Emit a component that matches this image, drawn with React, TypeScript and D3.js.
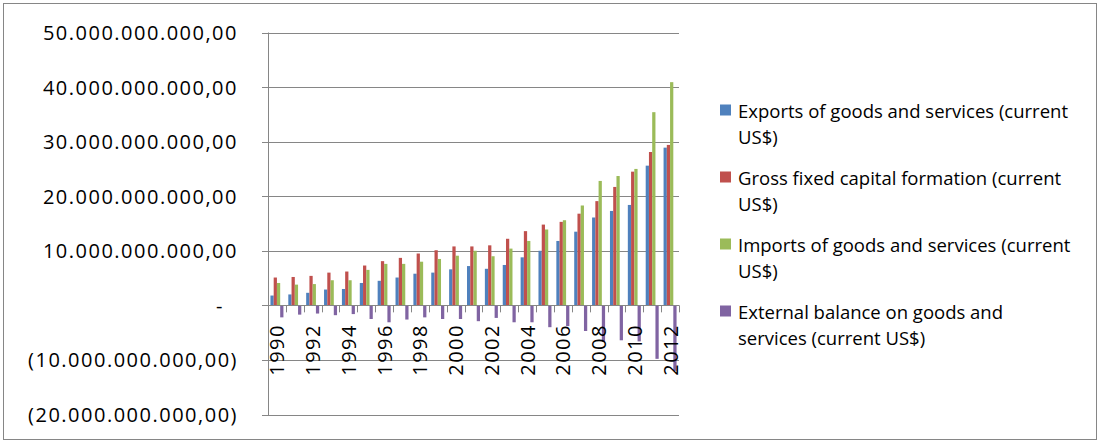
import * as d3 from 'd3'
import * as React from 'react'

//------------------------------data------------------------------
const years = [
  '1990', '1991', '1992', '1993', '1994', '1995', '1996', '1997', '1998', '1999', '2000', '2001',
  '2002', '2003', '2004', '2005', '2006', '2007', '2008', '2009', '2010', '2011', '2012'
]
// values in billions of current US$
const exportsValues = [
  1.8, 2.0, 2.3, 2.9, 3.0, 4.1, 4.5, 5.1, 5.8, 6.0, 6.6, 7.2, 6.7, 7.4, 8.8, 10.0, 11.8, 13.5, 16.1, 17.3, 18.4, 25.6, 28.9
]
const grossCapitalValues = [
  5.1, 5.2, 5.4, 6.0, 6.2, 7.3, 8.1, 8.7, 9.5, 10.1, 10.8, 10.8, 11.0, 12.2, 13.6, 14.8, 15.3, 16.8, 19.1, 21.7, 24.5, 28.1, 29.4
]
const importsValues = [
  4.1, 3.8, 3.9, 4.6, 4.6, 6.5, 7.6, 7.6, 8.0, 8.5, 9.1, 10.0, 9.0, 10.4, 11.8, 13.9, 15.6, 18.3, 22.8, 23.7, 25.0, 35.4, 40.9
]
const externalBalanceValues = [
  -2.2, -1.7, -1.5, -1.8, -1.6, -2.5, -3.1, -2.6, -2.2, -2.5, -2.5, -2.9, -2.3, -3.1, -3.1, -4.0, -3.8, -4.7, -6.7, -6.4, -6.6, -9.8, -12.0
]
const seriesNames = [
  ['Exports of goods and services (current', 'US$)'],
  ['Gross fixed capital formation (current', 'US$)'],
  ['Imports of goods and services (current', 'US$)'],
  ['External balance on goods and', 'services (current US$)']
]
const seriesColors = ['#4F81BD', '#C0504D', '#9BBB59', '#8064A2']
const yTicks = [-20e9, -10e9, 0, 10e9, 20e9, 30e9, 40e9, 50e9]
const yearLabels = years.filter((_, i) => i % 2 === 0)

//------------------------------layout------------------------------
const WIDTH = 1098
const HEIGHT = 443
const PLOT_LEFT = 268
const PLOT_RIGHT = 679
const PLOT_TOP = 32.5
const PLOT_BOTTOM = 414.5
const GRID = '#868686'
const FONT = '"Open Sans", sans-serif'

const locale = d3.formatLocale({ decimal: ',', thousands: '.', grouping: [3], currency: ['', ''] })
const fmt = locale.format(',.2f')
const tickLabel = (v: number) => (v === 0 ? '-' : v < 0 ? `(${fmt(-v)})` : fmt(v))

export default function App() {
  const allSeries = [exportsValues, grossCapitalValues, importsValues, externalBalanceValues]

  const y = d3.scaleLinear().domain([-20e9, 50e9]).range([PLOT_BOTTOM, PLOT_TOP])
  const x = d3
    .scaleBand<string>()
    .domain(years)
    .range([PLOT_LEFT, PLOT_RIGHT])
    .paddingInner(1.5 / 5.5)
    .paddingOuter(0.75 / 5.5)
  const xSeries = d3
    .scaleBand<number>()
    .domain([0, 1, 2, 3])
    .range([0, x.bandwidth()])
  const step = x.step()
  const y0 = y(0)
  const boundaries = d3.range(years.length + 1).map(i => PLOT_LEFT + i * step)

  const legendX = 720
  const legendY = d3.scaleLinear().domain([0, 3]).range([110, 311])

  return (
    <svg
      width={WIDTH}
      height={HEIGHT}
      style={{ position: 'absolute', left: 0, top: 0, background: '#fff' }}
      fontFamily={FONT}
    >
      <rect x={3.5} y={3.5} width={1093} height={436} fill="#fff" stroke={GRID} strokeWidth={1} />

      {/* gridlines */}
      {yTicks.map(t => (
        <line key={t} x1={PLOT_LEFT - 6} x2={PLOT_RIGHT} y1={Math.round(y(t)) + 0.5} y2={Math.round(y(t)) + 0.5} stroke={GRID} />
      ))}

      {/* bars */}
      {allSeries.map((vals, s) =>
        vals.map((v, i) => {
          const val = v * 1e9
          const top = Math.min(y(val), y0)
          return (
            <rect
              key={`${s}-${i}`}
              x={(x(years[i]) as number) + (xSeries(s) as number)}
              y={top}
              width={xSeries.bandwidth()}
              height={Math.abs(y(val) - y0)}
              fill={seriesColors[s]}
            />
          )
        })
      )}

      {/* axes */}
      <line x1={PLOT_LEFT + 0.5} x2={PLOT_LEFT + 0.5} y1={PLOT_TOP} y2={PLOT_BOTTOM + 0.5} stroke={GRID} />
      <line x1={PLOT_LEFT} x2={PLOT_RIGHT} y1={Math.round(y0) + 0.5} y2={Math.round(y0) + 0.5} stroke={GRID} />
      {boundaries.map((bx, i) => (
        <line key={i} x1={Math.round(bx) + 0.5} x2={Math.round(bx) + 0.5} y1={y0} y2={y0 + 7} stroke={GRID} />
      ))}

      {/* y tick labels */}
      {yTicks.map(t => (
        <text
          key={t}
          x={t === 0 ? 224 : 238}
          y={y(t)}
          textAnchor="end"
          dominantBaseline="central"
          fontSize={20}
          letterSpacing={1.5}
          fill="#000"
        >
          {tickLabel(t)}
        </text>
      ))}

      {/* x labels */}
      {yearLabels.map(yr => {
        const cx = (x(yr) as number) + x.bandwidth() / 2
        return (
          <text
            key={yr}
            transform={`translate(${cx},324) rotate(-90)`}
            textAnchor="end"
            dominantBaseline="central"
            fontSize={20}
            letterSpacing={1.5}
            fill="#000"
          >
            {yr}
          </text>
        )
      })}

      {/* legend */}
      {seriesNames.map((lines, s) => (
        <g key={s} transform={`translate(${legendX},${legendY(s)})`}>
          <rect x={0} y={-5.5} width={11} height={11} fill={seriesColors[s]} />
          {lines.map((ln, j) => (
            <text key={j} x={18} y={j * 26.5} dominantBaseline="central" fontSize={18.5} fill="#000">
              {ln}
            </text>
          ))}
        </g>
      ))}
    </svg>
  )
}
